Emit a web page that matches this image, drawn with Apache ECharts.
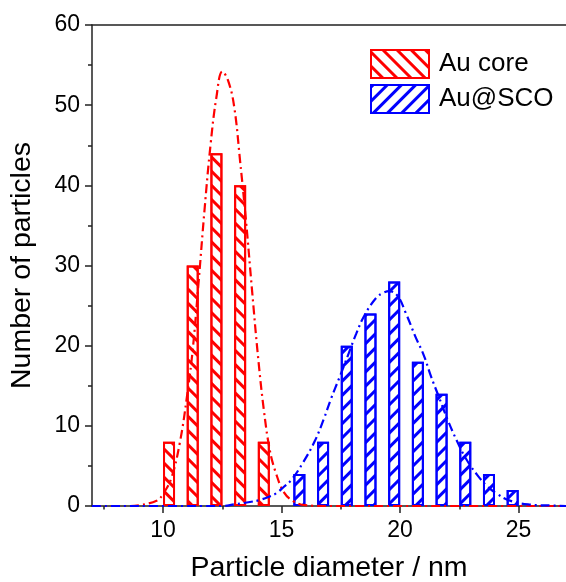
<!DOCTYPE html>
<html>
<head>
<meta charset="utf-8">
<script src="https://cdn.jsdelivr.net/npm/echarts@6/dist/echarts.min.js"></script>
<style>
  html, body { margin: 0; padding: 0; background: #fff; }
  #chart { width: 566px; height: 582px; }
</style>
</head>
<body>
<div id="chart"></div>
<script>
// Histogram bins (bin centre, nm) and counts
const coreDiameters = [10.25, 11.25, 12.25, 13.25, 14.25];
const coreCounts = [8, 30, 44, 40, 8];
const scoDiameters = [15.75, 16.75, 17.75, 18.75, 19.75, 20.75, 21.75, 22.75, 23.75, 24.75];
const scoCounts = [4, 8, 20, 24, 28, 18, 14, 8, 4, 2];

// Fitted distribution curves (diameter, count)
const coreFitX = [7, 8.5, 9.0, 9.75, 10.0, 10.35, 10.7, 11.0, 11.25, 11.5, 11.75, 12.0, 12.25, 12.5,
  12.75, 13.0, 13.25, 13.5, 13.75, 14.0, 14.25, 14.5, 14.75, 15.1, 15.5, 16.0, 17.0, 27];
const coreFitY = [0, 0, 0.1, 0.7, 1.5, 3.5, 7.8, 13.5, 19.5, 28, 37, 45, 51, 54.2,
  53, 49.8, 43, 35.5, 27, 18.8, 12, 7, 4.2, 1.7, 0.6, 0.1, 0, 0];
const scoFitX = [7, 12.5, 13.0, 13.66, 14.08, 14.5, 14.78, 15.1, 15.4, 15.9, 16.4, 16.8, 17.1, 17.45,
  17.8, 18.15, 18.5, 19.0, 19.3, 19.55, 19.9, 20.25, 20.65, 21.0, 21.3, 21.65, 22.0, 22.4, 22.8,
  23.3, 23.7, 24.1, 24.6, 25.4, 26.5, 27];
const scoFitY = [0, 0, 0.2, 0.5, 0.75, 1.2, 1.6, 2.4, 3.2, 5.4, 8.1, 11, 13.5, 16.1,
  18.8, 21.5, 23.8, 26, 26.6, 26.8, 26.2, 24, 21.1, 18.8, 16.2, 13.5, 10.8, 8.1, 5.8,
  3.7, 2.4, 1.5, 0.7, 0.2, 0.05, 0];

// Axis tick positions
const xMajorTicks = [10, 15, 20, 25];
const xMinorTicks = [7.5, 12.5, 17.5, 22.5];

const RED = '#ff0000';
const BLUE = '#0000ff';
const AXIS = '#222222';
const FONT = "'Liberation Sans', Arial, sans-serif";

function pairs(xs, ys) { return xs.map((x, i) => [x, ys[i]]); }

// Diagonal hatching used as the bar fill pattern
function hatch(color, rotation) {
  return {
    symbol: 'rect',
    symbolSize: 1,
    dashArrayX: [[1, 0]],
    dashArrayY: [3, 7],
    rotation: rotation,
    color: color,
    backgroundColor: 'rgba(0,0,0,0)'
  };
}

const chart = echarts.init(document.getElementById('chart'), null, { renderer: 'canvas' });

const xBase = { type: 'value', min: 7, max: 27, splitLine: { show: false } };

chart.setOption({
  animation: false,
  backgroundColor: '#ffffff',
  textStyle: { fontFamily: FONT },
  grid: { left: 92, right: 0, top: 25, bottom: 76, containLabel: false, outerBoundsMode: 'none' },
  legend: {
    data: ['Au core', 'Au@SCO'],
    orient: 'vertical',
    left: 370,
    top: 49,
    padding: 0,
    icon: 'rect',
    itemWidth: 58,
    itemHeight: 28,
    itemGap: 5,
    textStyle: { fontSize: 26, color: '#000', fontFamily: FONT, padding: [3, 0, 0, 5] },
    selectedMode: false
  },
  xAxis: [
    Object.assign({}, xBase, {
      position: 'bottom',
      name: 'Particle diameter / nm',
      nameLocation: 'middle',
      nameGap: 48,
      nameTextStyle: { fontSize: 28.5, color: '#000', fontFamily: FONT },
      axisLine: { onZero: false, lineStyle: { color: AXIS, width: 1.5 } },
      axisTick: { show: true, inside: false, length: 7, customValues: xMajorTicks, lineStyle: { color: AXIS, width: 1.5 } },
      axisLabel: { fontSize: 23, color: '#000', margin: 13, customValues: xMajorTicks, fontFamily: FONT }
    }),
    Object.assign({}, xBase, {
      position: 'bottom',
      axisLine: { show: false, onZero: false },
      axisTick: { show: true, inside: false, length: 3.5, customValues: xMinorTicks, lineStyle: { color: AXIS, width: 1.5 } },
      axisLabel: { show: false }
    }),
    Object.assign({}, xBase, {
      position: 'top',
      axisLine: { show: true, onZero: false, lineStyle: { color: AXIS, width: 1.5 } },
      axisTick: { show: false },
      axisLabel: { show: false }
    })
  ],
  yAxis: {
    type: 'value',
    min: 0,
    max: 60,
    interval: 10,
    name: 'Number of particles',
    nameLocation: 'middle',
    nameGap: 55,
    nameTextStyle: { fontSize: 28.5, color: '#000', fontFamily: FONT },
    splitLine: { show: false },
    axisLine: { show: true, lineStyle: { color: AXIS, width: 1.5 } },
    axisTick: { show: true, inside: false, length: 7, lineStyle: { color: AXIS, width: 1.5 } },
    minorTick: { show: true, splitNumber: 2, length: 4, lineStyle: { color: AXIS, width: 1.5 } },
    axisLabel: { fontSize: 23, color: '#000', margin: 12, fontFamily: FONT }
  },
  series: [
    {
      name: 'Au core',
      type: 'bar',
      xAxisIndex: 0,
      barWidth: 12,
      barGap: '-100%',
      data: pairs(coreDiameters, coreCounts),
      itemStyle: { color: '#ffffff', borderColor: RED, borderWidth: 2, decal: hatch(RED, Math.PI / 4) },
      z: 2
    },
    {
      name: 'Au@SCO',
      type: 'bar',
      xAxisIndex: 0,
      barWidth: 12,
      barGap: '-100%',
      data: pairs(scoDiameters, scoCounts),
      itemStyle: { color: '#ffffff', borderColor: BLUE, borderWidth: 2, decal: hatch(BLUE, -Math.PI / 4) },
      z: 2
    },
    {
      name: 'Au core fit',
      type: 'line',
      xAxisIndex: 0,
      smooth: 0.4,
      showSymbol: false,
      data: pairs(coreFitX, coreFitY),
      lineStyle: { color: RED, width: 2.2, type: [9, 4, 2, 4] },
      z: 3
    },
    {
      name: 'Au@SCO fit',
      type: 'line',
      xAxisIndex: 0,
      smooth: 0.4,
      showSymbol: false,
      data: pairs(scoFitX, scoFitY),
      lineStyle: { color: BLUE, width: 2.2, type: [9, 4, 2, 4] },
      z: 3
    }
  ]
});
</script>
</body>
</html>
